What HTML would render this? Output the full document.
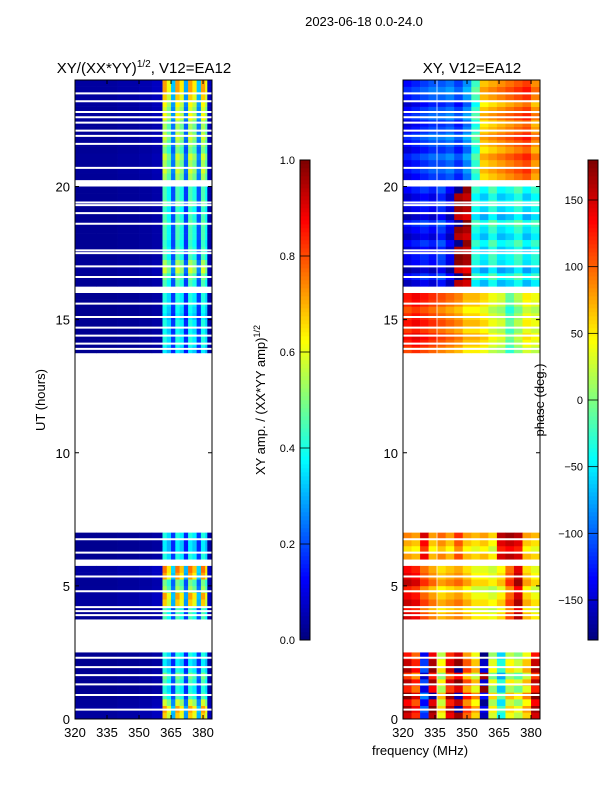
<!DOCTYPE html>
<html><head><meta charset="utf-8">
<style>
body{margin:0;background:#fff;}
svg text{font-family:"Liberation Sans",sans-serif;fill:#000;}
</style></head>
<body>
<svg id="fig" width="600" height="800" xmlns="http://www.w3.org/2000/svg">
<rect width="600" height="800" fill="#fff"/>
<text x="364" y="26" font-size="13" text-anchor="middle">2023-06-18 0.0-24.0</text>
<text x="144" y="73" font-size="15" text-anchor="middle">XY/(XX*YY)<tspan font-size="10" dy="-6">1/2</tspan><tspan dy="6">, V12=EA12</tspan></text>
<text x="472" y="73" font-size="15" text-anchor="middle">XY, V12=EA12</text>
<text x="45" y="400" font-size="13" text-anchor="middle" transform="rotate(-90 45 400)">UT (hours)</text>
<text x="420" y="755" font-size="13" text-anchor="middle">frequency (MHz)</text>
<text x="265" y="400" font-size="13" text-anchor="middle" transform="rotate(-90 265 400)">XY amp. / (XX*YY amp)<tspan font-size="9" dy="-5">1/2</tspan></text>
<text x="544" y="400" font-size="13" text-anchor="middle" transform="rotate(-90 544 400)">phase (deg.)</text>
<g id="g"></g>
</svg>
<script>
// ---- data ----
const ampFreqEdges = [320,330,340,350,356,361,363,365,367,369,371,373,375,377,379,381,382,384];
const ampColBase = [0.02,0.02,0.025,0.03,0.04,0.45,0.38,0.2,0.45,0.4,0.18,0.45,0.4,0.2,0.45,0.38,0.04];
// per 0.25h row level (null = no data)
const rowLevel = [1.5,1.6,1.3,1.0,0.9,1.0,1.1,0.9,0.8,0.9,
 null,null,null,null,null,1.0,1.0,1.5,1.6,1.2,1.1,1.6,1.7,null,0.9,0.8,0.8,0.9,
 null,null,null,null,null,null,null,null,null,null,null,null,null,null,null,null,null,null,null,null,null,null,null,null,null,null,null,
 0.8,0.9,0.9,0.85,0.9,0.8,0.85,0.9,0.9,null,1.0,1.1,1.3,1.2,1.0,1.0,
 0.95,1.0,1.0,1.05,1.0,0.95,1.1,1.0,1.0,null,
 1.2,1.3,1.2,1.3,1.1,1.2,1.3,1.2,1.2,1.4,1.3,1.4,1.5,1.6,1.6];
const phaseFreqEdges = [320,324,328,332,336,340,344,348,352,356,360,364,368,372,376,380,384];
const phaseBlockStart = [0,3.7,5.9,13.7,16.25,20.25];
const phaseB0 = [150,120,-120,160,40,140,170,100,60,-160,30,-40,40,20,60,150];
const phaseB1 = [140,130,100,80,60,70,80,60,40,40,30,50,100,150,60,40];
const phaseB2 = [70,60,130,60,80,60,100,60,50,60,40,140,150,140,60,50];
const phaseB3 = [120,130,120,110,100,90,80,60,60,50,30,20,-20,10,40,30];
const phaseB4 = [-150,-140,-130,-140,-120,-150,170,160,-40,-60,-30,-60,-50,-30,-60,-40];
const phaseB5 = [-140,-130,-120,-110,-110,-100,-120,-90,-30,60,70,80,90,100,110,80];
const rowJitter = [0,40,-30,60,-50,20,-70,30,10,-40,0,0,0,0,0,20,-20,30,0,-30,40,10,-10,0,20,-30,10,40,
 0,0,0,0,0,0,0,0,0,0,0,0,0,0,0,0,0,0,0,0,0,0,0,0,0,0,0,
 -20,10,30,-10,20,0,-30,10,20,0,-20,30,-40,10,20,-10,
 30,-20,10,40,-30,0,20,-10,30,0,
 -10,20,0,30,-20,10,40,0,-20,30,10,-30,20,40,10];
const whiteLines = [0.35,0.9,1.3,1.65,1.95,2.3,3.9,4.05,4.2,4.8,5.35,6.25,6.75,13.9,14.1,14.4,14.7,15.1,15.6,16.6,17.0,17.5,17.6,18.6,19.0,19.3,19.4,20.7,21.6,21.9,22.1,22.4,22.6,22.8,23.2,23.5];
const hourTicks = [0,5,10,15,20];
const freqTicks = [320,335,350,365,380];
const ampTicks = [0.0,0.2,0.4,0.6,0.8,1.0];
const phaseTicks = [-150,-100,-50,0,50,100,150];

// ---- scales ----
const Y0=719, Y1=80;
const yS = h => Y0 - (h/24)*(Y0-Y1);
const xL = f => 75 + (f-320)/(384.2-320)*137;
const xR = f => 403 + (f-320)/(384.2-320)*137;
const NS="http://www.w3.org/2000/svg";
const g=document.getElementById('g');
function jet(v){v=Math.max(0,Math.min(1,v));
 const c=x=>Math.round(255*Math.max(0,Math.min(1,1.5-Math.abs(4*v-x))));
 return `rgb(${c(3)},${c(2)},${c(1)})`;}
function mk(tag,attrs,parent){const e=document.createElementNS(NS,tag);for(const k in attrs)e.setAttribute(k,attrs[k]);(parent||g).appendChild(e);return e;}

const phaseBlocks=[phaseB0,phaseB1,phaseB2,phaseB3,phaseB4,phaseB5];
const gl=mk('g',{});
const gr=mk('g',{});
rowLevel.forEach((lv,i)=>{
 if(lv===null)return;
 const h0=i*0.25,h1=h0+0.25,yt=yS(h1),yb=yS(h0);
 for(let j=0;j<ampColBase.length;j++){
  const v=Math.min(1,ampColBase[j]*lv);
  const r=mk('rect',{x:xL(ampFreqEdges[j]),y:yt,width:xL(ampFreqEdges[j+1])-xL(ampFreqEdges[j])+0.3,height:yb-yt+0.3,fill:jet(v)},gl);
  
  
 }
 let b=0;for(let k=0;k<phaseBlockStart.length;k++)if(h0>=phaseBlockStart[k]-0.2)b=k;
 const prof=phaseBlocks[b];
 for(let j=0;j<prof.length;j++){
  let p=prof[j]+rowJitter[i]*0.5;
  while(p>180)p-=360;while(p<-180)p+=360;
  const r=mk('rect',{x:xR(phaseFreqEdges[j]),y:yt,width:xR(phaseFreqEdges[j+1])-xR(phaseFreqEdges[j])+0.3,height:yb-yt+0.3,fill:jet((p+180)/360)},gr);
  
  
 }
});
whiteLines.forEach(h=>{
 const a=mk('line',{x1:75,x2:212,y1:yS(h),y2:yS(h),stroke:'#fff','stroke-width':2});
 
 
 const b=mk('line',{x1:403,x2:540,y1:yS(h),y2:yS(h),stroke:'#fff','stroke-width':2});
 
 
});
const vl=mk('line',{x1:437,x2:437,y1:80,y2:719,stroke:'#fff','stroke-width':1,opacity:0.7});



// axes frames
[[75,'left'],[403,'right']].forEach(([x0,nm])=>{
 const fr=mk('rect',{x:x0,y:80,width:137,height:639,fill:'none',stroke:'#000','stroke-width':1});
 
 
 const xs = nm==='left'?xL:xR;
 hourTicks.forEach(h=>{
  const y=yS(h);
  mk('line',{x1:x0,x2:x0+4,y1:y,y2:y,stroke:'#000'});mk('line',{x1:x0+137,x2:x0+133,y1:y,y2:y,stroke:'#000'});
  const t=mk('text',{x:x0-5,y:y+5,'font-size':13,'text-anchor':'end'});t.textContent=h;
  
  
 });
 freqTicks.forEach(f=>{
  const x=xs(f);
  mk('line',{x1:x,x2:x,y1:719,y2:715,stroke:'#000'});mk('line',{x1:x,x2:x,y1:80,y2:84,stroke:'#000'});
  const t=mk('text',{x:x,y:737,'font-size':13,'text-anchor':'middle'});t.textContent=f;
  
  
 });
});

// colorbars
function cbar(x,ticks,lo,hi,nm){
 const cg=mk('g',{});
 for(let k=0;k<120;k++){mk('rect',{x:x,y:640-(k+1)*4,width:10,height:4.3,fill:jet(k/119)},cg);}
 mk('rect',{x:x,y:160,width:10,height:480,fill:'none',stroke:'#000'},cg);
 ticks.forEach(v=>{const y=640-(v-lo)/(hi-lo)*480;
  mk('line',{x1:x,x2:x+10,y1:y,y2:y,stroke:'#000','stroke-width':0.8},cg);
  const t=mk('text',{x:x-5,y:y+4,'font-size':11,'text-anchor':'end'},cg);
  t.textContent = lo===0? v.toFixed(1) : (v<0?'\u2212'+(-v):v);
  
  
 });
}
cbar(300,ampTicks,0,1,'amplitude-colorbar');
cbar(588,phaseTicks,-180,180,'phase-colorbar');
</script>
</body></html>
